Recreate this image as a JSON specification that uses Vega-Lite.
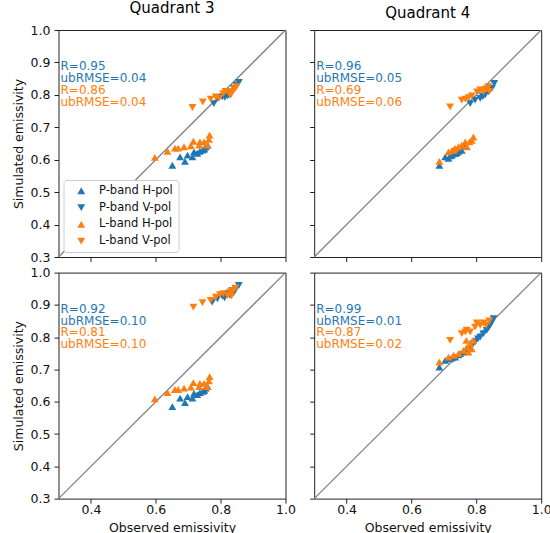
{
  "$schema": "https://vega.github.io/schema/vega-lite/v6.json",
  "padding": {"left": 11.5, "top": 0, "right": 2, "bottom": 0},
  "datasets": {
    "q3_top": [
      {"series": "P-band H-pol", "observed": 0.651, "simulated": 0.583},
      {"series": "P-band H-pol", "observed": 0.675, "simulated": 0.609},
      {"series": "P-band H-pol", "observed": 0.690, "simulated": 0.595},
      {"series": "P-band H-pol", "observed": 0.698, "simulated": 0.614},
      {"series": "P-band H-pol", "observed": 0.713, "simulated": 0.609},
      {"series": "P-band H-pol", "observed": 0.718, "simulated": 0.624},
      {"series": "P-band H-pol", "observed": 0.728, "simulated": 0.620},
      {"series": "P-band H-pol", "observed": 0.736, "simulated": 0.626},
      {"series": "P-band H-pol", "observed": 0.745, "simulated": 0.630},
      {"series": "P-band H-pol", "observed": 0.750, "simulated": 0.633},
      {"series": "P-band H-pol", "observed": 0.754, "simulated": 0.640},
      {"series": "P-band H-pol", "observed": 0.760, "simulated": 0.645},
      {"series": "P-band V-pol", "observed": 0.779, "simulated": 0.773},
      {"series": "P-band V-pol", "observed": 0.790, "simulated": 0.789},
      {"series": "P-band V-pol", "observed": 0.805, "simulated": 0.794},
      {"series": "P-band V-pol", "observed": 0.813, "simulated": 0.792},
      {"series": "P-band V-pol", "observed": 0.821, "simulated": 0.797},
      {"series": "P-band V-pol", "observed": 0.826, "simulated": 0.800},
      {"series": "P-band V-pol", "observed": 0.831, "simulated": 0.809},
      {"series": "P-band V-pol", "observed": 0.841, "simulated": 0.820},
      {"series": "P-band V-pol", "observed": 0.849, "simulated": 0.830},
      {"series": "P-band V-pol", "observed": 0.856, "simulated": 0.838},
      {"series": "L-band H-pol", "observed": 0.597, "simulated": 0.607},
      {"series": "L-band H-pol", "observed": 0.636, "simulated": 0.626},
      {"series": "L-band H-pol", "observed": 0.659, "simulated": 0.636},
      {"series": "L-band H-pol", "observed": 0.669, "simulated": 0.636},
      {"series": "L-band H-pol", "observed": 0.687, "simulated": 0.640},
      {"series": "L-band H-pol", "observed": 0.708, "simulated": 0.643},
      {"series": "L-band H-pol", "observed": 0.716, "simulated": 0.657},
      {"series": "L-band H-pol", "observed": 0.734, "simulated": 0.645},
      {"series": "L-band H-pol", "observed": 0.736, "simulated": 0.655},
      {"series": "L-band H-pol", "observed": 0.749, "simulated": 0.655},
      {"series": "L-band H-pol", "observed": 0.759, "simulated": 0.645},
      {"series": "L-band H-pol", "observed": 0.764, "simulated": 0.663},
      {"series": "L-band H-pol", "observed": 0.766, "simulated": 0.676},
      {"series": "L-band V-pol", "observed": 0.713, "simulated": 0.761},
      {"series": "L-band V-pol", "observed": 0.745, "simulated": 0.778},
      {"series": "L-band V-pol", "observed": 0.769, "simulated": 0.787},
      {"series": "L-band V-pol", "observed": 0.785, "simulated": 0.794},
      {"series": "L-band V-pol", "observed": 0.795, "simulated": 0.789},
      {"series": "L-band V-pol", "observed": 0.808, "simulated": 0.804},
      {"series": "L-band V-pol", "observed": 0.815, "simulated": 0.811},
      {"series": "L-band V-pol", "observed": 0.826, "simulated": 0.804},
      {"series": "L-band V-pol", "observed": 0.831, "simulated": 0.799},
      {"series": "L-band V-pol", "observed": 0.836, "simulated": 0.809},
      {"series": "L-band V-pol", "observed": 0.843, "simulated": 0.818},
      {"series": "L-band V-pol", "observed": 0.849, "simulated": 0.825}
    ],
    "q4_top": [
      {"series": "P-band H-pol", "observed": 0.686, "simulated": 0.583},
      {"series": "P-band H-pol", "observed": 0.704, "simulated": 0.609},
      {"series": "P-band H-pol", "observed": 0.714, "simulated": 0.604},
      {"series": "P-band H-pol", "observed": 0.720, "simulated": 0.612},
      {"series": "P-band H-pol", "observed": 0.725, "simulated": 0.614},
      {"series": "P-band H-pol", "observed": 0.735, "simulated": 0.619},
      {"series": "P-band H-pol", "observed": 0.740, "simulated": 0.622},
      {"series": "P-band H-pol", "observed": 0.745, "simulated": 0.626},
      {"series": "P-band H-pol", "observed": 0.755, "simulated": 0.629},
      {"series": "P-band H-pol", "observed": 0.766, "simulated": 0.643},
      {"series": "P-band V-pol", "observed": 0.781, "simulated": 0.773},
      {"series": "P-band V-pol", "observed": 0.796, "simulated": 0.784},
      {"series": "P-band V-pol", "observed": 0.812, "simulated": 0.789},
      {"series": "P-band V-pol", "observed": 0.820, "simulated": 0.795},
      {"series": "P-band V-pol", "observed": 0.827, "simulated": 0.799},
      {"series": "P-band V-pol", "observed": 0.837, "simulated": 0.809},
      {"series": "P-band V-pol", "observed": 0.842, "simulated": 0.815},
      {"series": "P-band V-pol", "observed": 0.848, "simulated": 0.820},
      {"series": "P-band V-pol", "observed": 0.855, "simulated": 0.835},
      {"series": "L-band H-pol", "observed": 0.686, "simulated": 0.595},
      {"series": "L-band H-pol", "observed": 0.714, "simulated": 0.624},
      {"series": "L-band H-pol", "observed": 0.725, "simulated": 0.629},
      {"series": "L-band H-pol", "observed": 0.730, "simulated": 0.630},
      {"series": "L-band H-pol", "observed": 0.735, "simulated": 0.635},
      {"series": "L-band H-pol", "observed": 0.745, "simulated": 0.640},
      {"series": "L-band H-pol", "observed": 0.755, "simulated": 0.645},
      {"series": "L-band H-pol", "observed": 0.766, "simulated": 0.655},
      {"series": "L-band H-pol", "observed": 0.771, "simulated": 0.640},
      {"series": "L-band H-pol", "observed": 0.779, "simulated": 0.655},
      {"series": "L-band H-pol", "observed": 0.786, "simulated": 0.660},
      {"series": "L-band H-pol", "observed": 0.791, "simulated": 0.670},
      {"series": "L-band V-pol", "observed": 0.719, "simulated": 0.763},
      {"series": "L-band V-pol", "observed": 0.755, "simulated": 0.784},
      {"series": "L-band V-pol", "observed": 0.766, "simulated": 0.787},
      {"series": "L-band V-pol", "observed": 0.776, "simulated": 0.791},
      {"series": "L-band V-pol", "observed": 0.786, "simulated": 0.797},
      {"series": "L-band V-pol", "observed": 0.802, "simulated": 0.809},
      {"series": "L-band V-pol", "observed": 0.812, "simulated": 0.815},
      {"series": "L-band V-pol", "observed": 0.822, "simulated": 0.809},
      {"series": "L-band V-pol", "observed": 0.830, "simulated": 0.818},
      {"series": "L-band V-pol", "observed": 0.837, "simulated": 0.825},
      {"series": "L-band V-pol", "observed": 0.840, "simulated": 0.811}
    ],
    "q3_bottom": [
      {"series": "P-band H-pol", "observed": 0.651, "simulated": 0.585},
      {"series": "P-band H-pol", "observed": 0.675, "simulated": 0.611},
      {"series": "P-band H-pol", "observed": 0.690, "simulated": 0.597},
      {"series": "P-band H-pol", "observed": 0.698, "simulated": 0.616},
      {"series": "P-band H-pol", "observed": 0.713, "simulated": 0.611},
      {"series": "P-band H-pol", "observed": 0.718, "simulated": 0.626},
      {"series": "P-band H-pol", "observed": 0.728, "simulated": 0.622},
      {"series": "P-band H-pol", "observed": 0.736, "simulated": 0.628},
      {"series": "P-band H-pol", "observed": 0.745, "simulated": 0.632},
      {"series": "P-band H-pol", "observed": 0.750, "simulated": 0.635},
      {"series": "P-band H-pol", "observed": 0.754, "simulated": 0.642},
      {"series": "P-band H-pol", "observed": 0.760, "simulated": 0.647},
      {"series": "P-band V-pol", "observed": 0.774, "simulated": 0.909},
      {"series": "P-band V-pol", "observed": 0.790, "simulated": 0.919},
      {"series": "P-band V-pol", "observed": 0.805, "simulated": 0.927},
      {"series": "P-band V-pol", "observed": 0.812, "simulated": 0.922},
      {"series": "P-band V-pol", "observed": 0.821, "simulated": 0.935},
      {"series": "P-band V-pol", "observed": 0.828, "simulated": 0.930},
      {"series": "P-band V-pol", "observed": 0.836, "simulated": 0.945},
      {"series": "P-band V-pol", "observed": 0.841, "simulated": 0.938},
      {"series": "P-band V-pol", "observed": 0.846, "simulated": 0.950},
      {"series": "P-band V-pol", "observed": 0.856, "simulated": 0.960},
      {"series": "L-band H-pol", "observed": 0.597, "simulated": 0.609},
      {"series": "L-band H-pol", "observed": 0.636, "simulated": 0.628},
      {"series": "L-band H-pol", "observed": 0.659, "simulated": 0.638},
      {"series": "L-band H-pol", "observed": 0.669, "simulated": 0.638},
      {"series": "L-band H-pol", "observed": 0.687, "simulated": 0.642},
      {"series": "L-band H-pol", "observed": 0.708, "simulated": 0.645},
      {"series": "L-band H-pol", "observed": 0.716, "simulated": 0.659},
      {"series": "L-band H-pol", "observed": 0.734, "simulated": 0.647},
      {"series": "L-band H-pol", "observed": 0.736, "simulated": 0.657},
      {"series": "L-band H-pol", "observed": 0.749, "simulated": 0.657},
      {"series": "L-band H-pol", "observed": 0.759, "simulated": 0.647},
      {"series": "L-band H-pol", "observed": 0.764, "simulated": 0.665},
      {"series": "L-band H-pol", "observed": 0.766, "simulated": 0.678},
      {"series": "L-band V-pol", "observed": 0.716, "simulated": 0.893},
      {"series": "L-band V-pol", "observed": 0.744, "simulated": 0.907},
      {"series": "L-band V-pol", "observed": 0.769, "simulated": 0.914},
      {"series": "L-band V-pol", "observed": 0.785, "simulated": 0.924},
      {"series": "L-band V-pol", "observed": 0.798, "simulated": 0.932},
      {"series": "L-band V-pol", "observed": 0.808, "simulated": 0.935},
      {"series": "L-band V-pol", "observed": 0.821, "simulated": 0.929},
      {"series": "L-band V-pol", "observed": 0.829, "simulated": 0.940},
      {"series": "L-band V-pol", "observed": 0.833, "simulated": 0.927},
      {"series": "L-band V-pol", "observed": 0.839, "simulated": 0.945},
      {"series": "L-band V-pol", "observed": 0.846, "simulated": 0.952}
    ],
    "q4_bottom": [
      {"series": "P-band H-pol", "observed": 0.686, "simulated": 0.707},
      {"series": "P-band H-pol", "observed": 0.704, "simulated": 0.728},
      {"series": "P-band H-pol", "observed": 0.719, "simulated": 0.733},
      {"series": "P-band H-pol", "observed": 0.725, "simulated": 0.736},
      {"series": "P-band H-pol", "observed": 0.735, "simulated": 0.738},
      {"series": "P-band H-pol", "observed": 0.745, "simulated": 0.745},
      {"series": "P-band H-pol", "observed": 0.750, "simulated": 0.749},
      {"series": "P-band H-pol", "observed": 0.760, "simulated": 0.754},
      {"series": "P-band H-pol", "observed": 0.771, "simulated": 0.759},
      {"series": "P-band H-pol", "observed": 0.781, "simulated": 0.769},
      {"series": "P-band V-pol", "observed": 0.790, "simulated": 0.780},
      {"series": "P-band V-pol", "observed": 0.796, "simulated": 0.785},
      {"series": "P-band V-pol", "observed": 0.805, "simulated": 0.795},
      {"series": "P-band V-pol", "observed": 0.812, "simulated": 0.800},
      {"series": "P-band V-pol", "observed": 0.822, "simulated": 0.811},
      {"series": "P-band V-pol", "observed": 0.832, "simulated": 0.821},
      {"series": "P-band V-pol", "observed": 0.838, "simulated": 0.830},
      {"series": "P-band V-pol", "observed": 0.842, "simulated": 0.837},
      {"series": "P-band V-pol", "observed": 0.848, "simulated": 0.847},
      {"series": "P-band V-pol", "observed": 0.853, "simulated": 0.857},
      {"series": "L-band H-pol", "observed": 0.686, "simulated": 0.723},
      {"series": "L-band H-pol", "observed": 0.714, "simulated": 0.738},
      {"series": "L-band H-pol", "observed": 0.730, "simulated": 0.744},
      {"series": "L-band H-pol", "observed": 0.745, "simulated": 0.749},
      {"series": "L-band H-pol", "observed": 0.760, "simulated": 0.759},
      {"series": "L-band H-pol", "observed": 0.769, "simulated": 0.790},
      {"series": "L-band H-pol", "observed": 0.771, "simulated": 0.769},
      {"series": "L-band H-pol", "observed": 0.776, "simulated": 0.754},
      {"series": "L-band H-pol", "observed": 0.781, "simulated": 0.780},
      {"series": "L-band H-pol", "observed": 0.786, "simulated": 0.764},
      {"series": "L-band H-pol", "observed": 0.791, "simulated": 0.790},
      {"series": "L-band V-pol", "observed": 0.719, "simulated": 0.790},
      {"series": "L-band V-pol", "observed": 0.755, "simulated": 0.811},
      {"series": "L-band V-pol", "observed": 0.766, "simulated": 0.816},
      {"series": "L-band V-pol", "observed": 0.770, "simulated": 0.822},
      {"series": "L-band V-pol", "observed": 0.781, "simulated": 0.816},
      {"series": "L-band V-pol", "observed": 0.796, "simulated": 0.831},
      {"series": "L-band V-pol", "observed": 0.801, "simulated": 0.844},
      {"series": "L-band V-pol", "observed": 0.812, "simulated": 0.837},
      {"series": "L-band V-pol", "observed": 0.822, "simulated": 0.844},
      {"series": "L-band V-pol", "observed": 0.830, "simulated": 0.837},
      {"series": "L-band V-pol", "observed": 0.840, "simulated": 0.850}
    ]
  },
  "columns": 2,
  "spacing": {"row": 15.6, "column": 28.7},
  "bounds": "flush",
  "resolve": {"scale": {"color": "independent", "shape": "independent"}, "legend": {"color": "independent", "shape": "independent"}},
  "concat": [
    {
      "width": 227, "height": 227,
      "title": "Quadrant 3",
      "layer": [
        {"data": {"values": [{}]}, "mark": {"type": "rule", "color": "#808080", "strokeWidth": 1.3},
         "encoding": {"x": {"datum": 0.3, "type": "quantitative"}, "y": {"datum": 0.3, "type": "quantitative"}, "x2": {"datum": 1.0}, "y2": {"datum": 1.0}}},
        {"data": {"name": "q3_top"}, "mark": {"type": "point", "filled": true, "opacity": 1, "size": 62},
         "encoding": {
           "x": {"field": "observed", "type": "quantitative", "scale": {"domain": [0.3, 1.0], "nice": false, "zero": false}, "axis": {"values": [0.4, 0.6, 0.8, 1.0], "tickCount": 10, "labels": false, "title": null}},
           "y": {"field": "simulated", "type": "quantitative", "scale": {"domain": [0.3, 1.0], "nice": false, "zero": false}, "axis": {"values": [0.3, 0.4, 0.5, 0.6, 0.7, 0.8, 0.9, 1.0], "tickCount": 10, "format": ".1f", "labelOverlap": false, "title": "Simulated emissivity"}},
           "color": {"field": "series", "type": "nominal", "sort": null, "scale": {"domain": ["P-band H-pol", "P-band V-pol", "L-band H-pol", "L-band V-pol"], "range": ["#1f77b4", "#1f77b4", "#ff7f0e", "#ff7f0e"]}, "legend": {"title": null}},
           "shape": {"field": "series", "type": "nominal", "sort": null, "scale": {"domain": ["P-band H-pol", "P-band V-pol", "L-band H-pol", "L-band V-pol"], "range": ["triangle-up", "triangle-down", "triangle-up", "triangle-down"]}, "legend": {"title": null}}
         }},
        {"data": {"values": [{"label": "R=0.95"}]}, "mark": {"type": "text", "align": "left", "baseline": "middle", "dx": 2, "fontSize": 12, "color": "#1f77b4"}, "encoding": {"x": {"datum": 0.3, "type": "quantitative"}, "y": {"datum": 0.888, "type": "quantitative"}, "text": {"field": "label"}}},
        {"data": {"values": [{"label": "ubRMSE=0.04"}]}, "mark": {"type": "text", "align": "left", "baseline": "middle", "dx": 2, "fontSize": 12, "color": "#1f77b4"}, "encoding": {"x": {"datum": 0.3, "type": "quantitative"}, "y": {"datum": 0.8515, "type": "quantitative"}, "text": {"field": "label"}}},
        {"data": {"values": [{"label": "R=0.86"}]}, "mark": {"type": "text", "align": "left", "baseline": "middle", "dx": 2, "fontSize": 12, "color": "#ff7f0e"}, "encoding": {"x": {"datum": 0.3, "type": "quantitative"}, "y": {"datum": 0.815, "type": "quantitative"}, "text": {"field": "label"}}},
        {"data": {"values": [{"label": "ubRMSE=0.04"}]}, "mark": {"type": "text", "align": "left", "baseline": "middle", "dx": 2, "fontSize": 12, "color": "#ff7f0e"}, "encoding": {"x": {"datum": 0.3, "type": "quantitative"}, "y": {"datum": 0.7785, "type": "quantitative"}, "text": {"field": "label"}}}
      ]
    },
    {
      "width": 227, "height": 227,
      "title": "Quadrant 4",
      "layer": [
        {"data": {"values": [{}]}, "mark": {"type": "rule", "color": "#808080", "strokeWidth": 1.3},
         "encoding": {"x": {"datum": 0.3, "type": "quantitative"}, "y": {"datum": 0.3, "type": "quantitative"}, "x2": {"datum": 1.0}, "y2": {"datum": 1.0}}},
        {"data": {"name": "q4_top"}, "mark": {"type": "point", "filled": true, "opacity": 1, "size": 62},
         "encoding": {
           "x": {"field": "observed", "type": "quantitative", "scale": {"domain": [0.3, 1.0], "nice": false, "zero": false}, "axis": {"values": [0.4, 0.6, 0.8, 1.0], "tickCount": 10, "labels": false, "title": null}},
           "y": {"field": "simulated", "type": "quantitative", "scale": {"domain": [0.3, 1.0], "nice": false, "zero": false}, "axis": {"values": [0.3, 0.4, 0.5, 0.6, 0.7, 0.8, 0.9, 1.0], "tickCount": 10, "labels": false, "title": null}},
           "color": {"field": "series", "type": "nominal", "sort": null, "scale": {"domain": ["P-band H-pol", "P-band V-pol", "L-band H-pol", "L-band V-pol"], "range": ["#1f77b4", "#1f77b4", "#ff7f0e", "#ff7f0e"]}, "legend": null},
           "shape": {"field": "series", "type": "nominal", "sort": null, "scale": {"domain": ["P-band H-pol", "P-band V-pol", "L-band H-pol", "L-band V-pol"], "range": ["triangle-up", "triangle-down", "triangle-up", "triangle-down"]}, "legend": null}
         }},
        {"data": {"values": [{"label": "R=0.96"}]}, "mark": {"type": "text", "align": "left", "baseline": "middle", "dx": 2, "fontSize": 12, "color": "#1f77b4"}, "encoding": {"x": {"datum": 0.3, "type": "quantitative"}, "y": {"datum": 0.888, "type": "quantitative"}, "text": {"field": "label"}}},
        {"data": {"values": [{"label": "ubRMSE=0.05"}]}, "mark": {"type": "text", "align": "left", "baseline": "middle", "dx": 2, "fontSize": 12, "color": "#1f77b4"}, "encoding": {"x": {"datum": 0.3, "type": "quantitative"}, "y": {"datum": 0.8515, "type": "quantitative"}, "text": {"field": "label"}}},
        {"data": {"values": [{"label": "R=0.69"}]}, "mark": {"type": "text", "align": "left", "baseline": "middle", "dx": 2, "fontSize": 12, "color": "#ff7f0e"}, "encoding": {"x": {"datum": 0.3, "type": "quantitative"}, "y": {"datum": 0.815, "type": "quantitative"}, "text": {"field": "label"}}},
        {"data": {"values": [{"label": "ubRMSE=0.06"}]}, "mark": {"type": "text", "align": "left", "baseline": "middle", "dx": 2, "fontSize": 12, "color": "#ff7f0e"}, "encoding": {"x": {"datum": 0.3, "type": "quantitative"}, "y": {"datum": 0.7785, "type": "quantitative"}, "text": {"field": "label"}}}
      ]
    },
    {
      "width": 227, "height": 226,
      "layer": [
        {"data": {"values": [{}]}, "mark": {"type": "rule", "color": "#808080", "strokeWidth": 1.3},
         "encoding": {"x": {"datum": 0.3, "type": "quantitative"}, "y": {"datum": 0.3, "type": "quantitative"}, "x2": {"datum": 1.0}, "y2": {"datum": 1.0}}},
        {"data": {"name": "q3_bottom"}, "mark": {"type": "point", "filled": true, "opacity": 1, "size": 62},
         "encoding": {
           "x": {"field": "observed", "type": "quantitative", "scale": {"domain": [0.3, 1.0], "nice": false, "zero": false}, "axis": {"values": [0.4, 0.6, 0.8, 1.0], "tickCount": 10, "format": ".1f", "labelOverlap": false, "title": "Observed emissivity", "labelPadding": 0, "titlePadding": 6}},
           "y": {"field": "simulated", "type": "quantitative", "scale": {"domain": [0.3, 1.0], "nice": false, "zero": false}, "axis": {"values": [0.3, 0.4, 0.5, 0.6, 0.7, 0.8, 0.9, 1.0], "tickCount": 10, "format": ".1f", "labelOverlap": false, "title": "Simulated emissivity"}},
           "color": {"field": "series", "type": "nominal", "sort": null, "scale": {"domain": ["P-band H-pol", "P-band V-pol", "L-band H-pol", "L-band V-pol"], "range": ["#1f77b4", "#1f77b4", "#ff7f0e", "#ff7f0e"]}, "legend": null},
           "shape": {"field": "series", "type": "nominal", "sort": null, "scale": {"domain": ["P-band H-pol", "P-band V-pol", "L-band H-pol", "L-band V-pol"], "range": ["triangle-up", "triangle-down", "triangle-up", "triangle-down"]}, "legend": null}
         }},
        {"data": {"values": [{"label": "R=0.92"}]}, "mark": {"type": "text", "align": "left", "baseline": "middle", "dx": 2, "fontSize": 12, "color": "#1f77b4"}, "encoding": {"x": {"datum": 0.3, "type": "quantitative"}, "y": {"datum": 0.888, "type": "quantitative"}, "text": {"field": "label"}}},
        {"data": {"values": [{"label": "ubRMSE=0.10"}]}, "mark": {"type": "text", "align": "left", "baseline": "middle", "dx": 2, "fontSize": 12, "color": "#1f77b4"}, "encoding": {"x": {"datum": 0.3, "type": "quantitative"}, "y": {"datum": 0.8515, "type": "quantitative"}, "text": {"field": "label"}}},
        {"data": {"values": [{"label": "R=0.81"}]}, "mark": {"type": "text", "align": "left", "baseline": "middle", "dx": 2, "fontSize": 12, "color": "#ff7f0e"}, "encoding": {"x": {"datum": 0.3, "type": "quantitative"}, "y": {"datum": 0.815, "type": "quantitative"}, "text": {"field": "label"}}},
        {"data": {"values": [{"label": "ubRMSE=0.10"}]}, "mark": {"type": "text", "align": "left", "baseline": "middle", "dx": 2, "fontSize": 12, "color": "#ff7f0e"}, "encoding": {"x": {"datum": 0.3, "type": "quantitative"}, "y": {"datum": 0.7785, "type": "quantitative"}, "text": {"field": "label"}}}
      ]
    },
    {
      "width": 227, "height": 226,
      "layer": [
        {"data": {"values": [{}]}, "mark": {"type": "rule", "color": "#808080", "strokeWidth": 1.3},
         "encoding": {"x": {"datum": 0.3, "type": "quantitative"}, "y": {"datum": 0.3, "type": "quantitative"}, "x2": {"datum": 1.0}, "y2": {"datum": 1.0}}},
        {"data": {"name": "q4_bottom"}, "mark": {"type": "point", "filled": true, "opacity": 1, "size": 62},
         "encoding": {
           "x": {"field": "observed", "type": "quantitative", "scale": {"domain": [0.3, 1.0], "nice": false, "zero": false}, "axis": {"values": [0.4, 0.6, 0.8, 1.0], "tickCount": 10, "format": ".1f", "labelOverlap": false, "title": "Observed emissivity", "labelPadding": 0, "titlePadding": 6}},
           "y": {"field": "simulated", "type": "quantitative", "scale": {"domain": [0.3, 1.0], "nice": false, "zero": false}, "axis": {"values": [0.3, 0.4, 0.5, 0.6, 0.7, 0.8, 0.9, 1.0], "tickCount": 10, "labels": false, "title": null}},
           "color": {"field": "series", "type": "nominal", "sort": null, "scale": {"domain": ["P-band H-pol", "P-band V-pol", "L-band H-pol", "L-band V-pol"], "range": ["#1f77b4", "#1f77b4", "#ff7f0e", "#ff7f0e"]}, "legend": null},
           "shape": {"field": "series", "type": "nominal", "sort": null, "scale": {"domain": ["P-band H-pol", "P-band V-pol", "L-band H-pol", "L-band V-pol"], "range": ["triangle-up", "triangle-down", "triangle-up", "triangle-down"]}, "legend": null}
         }},
        {"data": {"values": [{"label": "R=0.99"}]}, "mark": {"type": "text", "align": "left", "baseline": "middle", "dx": 2, "fontSize": 12, "color": "#1f77b4"}, "encoding": {"x": {"datum": 0.3, "type": "quantitative"}, "y": {"datum": 0.888, "type": "quantitative"}, "text": {"field": "label"}}},
        {"data": {"values": [{"label": "ubRMSE=0.01"}]}, "mark": {"type": "text", "align": "left", "baseline": "middle", "dx": 2, "fontSize": 12, "color": "#1f77b4"}, "encoding": {"x": {"datum": 0.3, "type": "quantitative"}, "y": {"datum": 0.8515, "type": "quantitative"}, "text": {"field": "label"}}},
        {"data": {"values": [{"label": "R=0.87"}]}, "mark": {"type": "text", "align": "left", "baseline": "middle", "dx": 2, "fontSize": 12, "color": "#ff7f0e"}, "encoding": {"x": {"datum": 0.3, "type": "quantitative"}, "y": {"datum": 0.815, "type": "quantitative"}, "text": {"field": "label"}}},
        {"data": {"values": [{"label": "ubRMSE=0.02"}]}, "mark": {"type": "text", "align": "left", "baseline": "middle", "dx": 2, "fontSize": 12, "color": "#ff7f0e"}, "encoding": {"x": {"datum": 0.3, "type": "quantitative"}, "y": {"datum": 0.7785, "type": "quantitative"}, "text": {"field": "label"}}}
      ]
    }
  ],
  "config": {
    "font": "DejaVu Sans",
    "view": {"stroke": "#222222", "strokeWidth": 1},
    "axis": {"grid": false, "domain": false, "tickColor": "#222222", "tickSize": 4.5, "tickWidth": 1, "tickCount": 10, "labelPadding": 4, "labelFontSize": 12.5, "labelColor": "#111111", "labelFont": "DejaVu Sans", "labelFlush": false, "labelOverlap": false, "titleFontSize": 12.5, "titleFontWeight": "normal", "titleColor": "#111111", "titleFont": "DejaVu Sans", "titlePadding": 5},
    "title": {"fontSize": 15, "fontWeight": "normal", "font": "DejaVu Sans", "color": "#000000", "offset": 8},
    "legend": {"orient": "bottom-left", "offset": 5, "fillColor": "white", "strokeColor": "#cccccc", "cornerRadius": 3, "padding": 5, "rowPadding": 3.8, "symbolOffset": 7, "labelFontSize": 11.5, "labelFont": "DejaVu Sans", "labelColor": "#111111", "symbolSize": 62, "labelOffset": 12, "symbolStrokeWidth": 0, "symbolOpacity": 1}
  }
}
